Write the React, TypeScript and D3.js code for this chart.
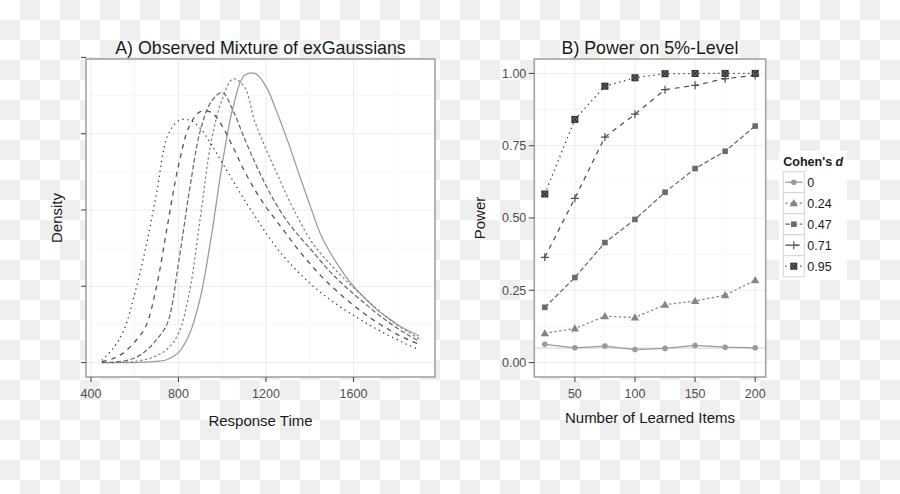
import React from "react";
import * as d3 from "d3";

// ---------- Panel A data (density, in tick units) ----------
const rtGrid = [450, 500, 550, 600, 650, 700, 750, 800, 850, 900, 950, 1000, 1050, 1100, 1150, 1200, 1250, 1300, 1350, 1400, 1450, 1500, 1550, 1600, 1650, 1700, 1750, 1800, 1850, 1900];
const densD0 = [0, 0, 0, 0, 0.005, 0.015, 0.04, 0.13, 0.37, 0.85, 1.65, 2.6, 3.35, 3.76, 3.79, 3.62, 3.28, 2.9, 2.48, 2.07, 1.68, 1.41, 1.19, 1.0, 0.85, 0.71, 0.6, 0.5, 0.42, 0.35];
const densD024 = [0, 0, 0.005, 0.015, 0.04, 0.09, 0.18, 0.38, 0.92, 1.9, 2.9, 3.45, 3.72, 3.62, 3.15, 2.8, 2.48, 2.16, 1.88, 1.62, 1.43, 1.27, 1.12, 0.98, 0.85, 0.72, 0.6, 0.49, 0.4, 0.31];
const densD047 = [0, 0.005, 0.02, 0.06, 0.15, 0.3, 0.52, 1.3, 2.25, 3.04, 3.42, 3.54, 3.3, 2.95, 2.62, 2.32, 2.06, 1.84, 1.66, 1.5, 1.33, 1.17, 1.03, 0.9, 0.78, 0.66, 0.55, 0.45, 0.36, 0.28];
const densD071 = [0.01, 0.05, 0.13, 0.27, 0.47, 1.0, 1.8, 2.58, 3.1, 3.29, 3.28, 3.1, 2.82, 2.52, 2.26, 2.04, 1.85, 1.66, 1.47, 1.3, 1.14, 1.0, 0.87, 0.75, 0.64, 0.54, 0.45, 0.37, 0.3, 0.24];
const densD095 = [0.03, 0.18, 0.42, 0.9, 1.5, 2.22, 2.97, 3.17, 3.18, 3.07, 2.86, 2.62, 2.38, 2.14, 1.92, 1.7, 1.5, 1.33, 1.18, 1.04, 0.92, 0.81, 0.71, 0.62, 0.53, 0.45, 0.37, 0.3, 0.23, 0.17];
const rtTicks = [400, 800, 1200, 1600];
const rtMinor = [600, 1000, 1400, 1800];
const densTicks = [0, 1, 2, 3, 4];
const densMinor = [0.5, 1.5, 2.5, 3.5];

// ---------- Panel B data ----------
const items = [25, 50, 75, 100, 125, 150, 175, 200];
const power0 = [0.063, 0.051, 0.057, 0.045, 0.049, 0.059, 0.053, 0.051];
const power024 = [0.101, 0.118, 0.16, 0.156, 0.2, 0.213, 0.233, 0.285];
const power047 = [0.191, 0.294, 0.415, 0.495, 0.589, 0.671, 0.731, 0.818];
const power071 = [0.364, 0.568, 0.78, 0.859, 0.944, 0.959, 0.982, 0.993];
const power095 = [0.583, 0.841, 0.956, 0.985, 0.999, 1.0, 1.0, 1.0];
const cohenLabels = ["0", "0.24", "0.47", "0.71", "0.95"];
const itemTicks = [50, 100, 150, 200];
const itemMinor = [25, 75, 125, 175];
const powerTicks = [0, 0.25, 0.5, 0.75, 1.0];
const powerMinor = [0.125, 0.375, 0.625, 0.875];
const alphaLevel = 0.05;

const densSeries = [densD0, densD024, densD047, densD071, densD095];
const powerSeries = [power0, power024, power047, power071, power095];

// styles
const colors = ["#9a9a9a", "#858585", "#6b6b6b", "#4f4f4f", "#333333"];
const dashes = ["none", "2.4,2.4", "4.8,2.4", "4.8,4.8", "1.3,3.7"];
const shapes = ["circle", "triangle", "square", "plus", "squarecross"];

const FONT = "'Liberation Sans', Arial, Helvetica, sans-serif";

function Marker({ shape, x, y, color }: { shape: string; x: number; y: number; color: string }) {
  if (shape === "circle") return <circle cx={x} cy={y} r={2.8} fill={color} />;
  if (shape === "triangle") {
    const p = d3.symbol(d3.symbolTriangle, 30)();
    return <path d={p || ""} transform={`translate(${x},${y + 0.6})`} fill={color} />;
  }
  if (shape === "square") return <rect x={x - 2.8} y={y - 2.8} width={5.6} height={5.6} fill={color} />;
  if (shape === "plus")
    return (
      <g stroke={color} strokeWidth={1.2}>
        <line x1={x - 4} x2={x + 4} y1={y} y2={y} />
        <line x1={x} x2={x} y1={y - 4} y2={y + 4} />
      </g>
    );
  return (
    <g stroke={color} strokeWidth={1.2} fill="#777">
      <rect x={x - 2.9} y={y - 2.9} width={5.8} height={5.8} />
      <line x1={x - 2.9} x2={x + 2.9} y1={y - 2.9} y2={y + 2.9} />
      <line x1={x - 2.9} x2={x + 2.9} y1={y + 2.9} y2={y - 2.9} />
    </g>
  );
}

export default function App() {
  // Panel A
  const aL = 86, aR = 435, top = 59, bot = 377;
  const densMax = d3.max(densSeries.flat()) as number;
  const xA = d3.scaleLinear().domain([450 - 0.05 * 1450, 1900 + 0.05 * 1450]).range([aL, aR]);
  const yA = d3.scaleLinear().domain([-0.05 * densMax, densMax * 1.05]).range([bot, top]);
  const lineA = d3
    .line<number>()
    .x((_, i) => xA(rtGrid[i]))
    .y((d) => yA(d))
    .curve(d3.curveCatmullRom.alpha(0.5));

  // Panel B
  const bL = 534.3, bR = 765.7;
  const xB = d3.scaleLinear().domain([25 - 0.05 * 175, 200 + 0.05 * 175]).range([bL, bR]);
  const yB = d3.scaleLinear().domain([-0.05, 1.05]).range([bot, top]);
  const lineB = d3
    .line<number>()
    .x((_, i) => xB(items[i]))
    .y((d) => yB(d));

  const tickColor = "#4d4d4d";
  const borderColor = "#a3a3a3";
  const gridMajor = "#ebebeb";
  const gridMinor = "#f6f6f6";

  const legX = 783.3, legTop = 171.7, keyH = 21, keyW = 21;

  return (
    <svg
      width={900}
      height={494}
      style={{ position: "absolute", left: 0, top: 0 }}
      fontFamily={FONT}
    >
      <defs>
        <pattern id="chk" width={40} height={40} patternUnits="userSpaceOnUse">
          <rect width={40} height={40} fill="#ffffff" />
          <rect x={20} y={0} width={20} height={20} fill="#efefef" />
          <rect x={0} y={20} width={20} height={20} fill="#efefef" />
        </pattern>
        <clipPath id="clipA">
          <rect x={aL} y={top} width={aR - aL} height={bot - top} />
        </clipPath>
        <clipPath id="clipB">
          <rect x={bL} y={top} width={bR - bL} height={bot - top} />
        </clipPath>
      </defs>
      <rect width={900} height={494} fill="url(#chk)" />

      {/* ---------------- Panel A ---------------- */}
      <rect x={aL} y={top} width={aR - aL} height={bot - top} fill="#fff" />
      {rtMinor.map((v) => (
        <line key={"am" + v} x1={xA(v)} x2={xA(v)} y1={top} y2={bot} stroke={gridMinor} />
      ))}
      {densMinor.map((v) => (
        <line key={"adm" + v} x1={aL} x2={aR} y1={yA(v)} y2={yA(v)} stroke={gridMinor} />
      ))}
      {rtTicks.map((v) => (
        <line key={"aM" + v} x1={xA(v)} x2={xA(v)} y1={top} y2={bot} stroke={gridMajor} />
      ))}
      {densTicks.map((v) => (
        <line key={"adM" + v} x1={aL} x2={aR} y1={yA(v)} y2={yA(v)} stroke={gridMajor} />
      ))}
      <g clipPath="url(#clipA)" fill="none">
        {densSeries.map((s, i) => (
          <path
            key={"c" + i}
            d={lineA(s) || ""}
            stroke={colors[i]}
            strokeWidth={1.25}
            strokeDasharray={dashes[i]}
          />
        ))}
      </g>
      <rect x={aL} y={top} width={aR - aL} height={bot - top} fill="none" stroke={borderColor} strokeWidth={1.6} />
      {densTicks.map((v) => (
        <line key={"at" + v} x1={aL - 5} x2={aL} y1={yA(v)} y2={yA(v)} stroke={tickColor} strokeWidth={1.1} />
      ))}
      {rtTicks.map((v) => (
        <g key={"axt" + v}>
          <line x1={xA(v)} x2={xA(v)} y1={bot} y2={bot + 5} stroke={tickColor} strokeWidth={1.1} />
          <text x={xA(v)} y={398} textAnchor="middle" fontSize={12.5} fill={tickColor}>
            {v}
          </text>
        </g>
      ))}
      <text x={(aL + aR) / 2} y={54} textAnchor="middle" fontSize={17.8} fill="#1a1a1a">
        A) Observed Mixture of exGaussians
      </text>
      <text x={(aL + aR) / 2} y={426} textAnchor="middle" fontSize={15} fill="#1a1a1a">
        Response Time
      </text>
      <text
        transform={`translate(62,${(top + bot) / 2}) rotate(-90)`}
        textAnchor="middle"
        fontSize={15}
        fill="#1a1a1a"
      >
        Density
      </text>

      {/* ---------------- Panel B ---------------- */}
      <rect x={bL} y={top} width={bR - bL} height={bot - top} fill="#fff" />
      {itemMinor.map((v) => (
        <line key={"bm" + v} x1={xB(v)} x2={xB(v)} y1={top} y2={bot} stroke={gridMinor} />
      ))}
      {powerMinor.map((v) => (
        <line key={"bpm" + v} x1={bL} x2={bR} y1={yB(v)} y2={yB(v)} stroke={gridMinor} />
      ))}
      {itemTicks.map((v) => (
        <line key={"bM" + v} x1={xB(v)} x2={xB(v)} y1={top} y2={bot} stroke={gridMajor} />
      ))}
      {powerTicks.map((v) => (
        <line key={"bpM" + v} x1={bL} x2={bR} y1={yB(v)} y2={yB(v)} stroke={gridMajor} />
      ))}
      <line x1={bL} x2={bR} y1={yB(alphaLevel)} y2={yB(alphaLevel)} stroke="#cfcfcf" strokeWidth={1} />
      <g clipPath="url(#clipB)">
        {powerSeries.map((s, i) => (
          <path
            key={"pl" + i}
            d={lineB(s) || ""}
            fill="none"
            stroke={colors[i]}
            strokeWidth={1.25}
            strokeDasharray={dashes[i]}
          />
        ))}
        {powerSeries.map((s, i) =>
          s.map((v, j) => (
            <Marker key={"pm" + i + "-" + j} shape={shapes[i]} x={xB(items[j])} y={yB(v)} color={colors[i]} />
          ))
        )}
      </g>
      <rect x={bL} y={top} width={bR - bL} height={bot - top} fill="none" stroke={borderColor} strokeWidth={1.6} />
      {powerTicks.map((v) => (
        <g key={"bt" + v}>
          <line x1={bL - 5.5} x2={bL} y1={yB(v)} y2={yB(v)} stroke={tickColor} strokeWidth={1.1} />
          <text x={bL - 8} y={yB(v) + 4.4} textAnchor="end" fontSize={12.5} fill={tickColor}>
            {v.toFixed(2)}
          </text>
        </g>
      ))}
      {itemTicks.map((v) => (
        <g key={"bxt" + v}>
          <line x1={xB(v)} x2={xB(v)} y1={bot} y2={bot + 5} stroke={tickColor} strokeWidth={1.1} />
          <text x={xB(v)} y={398} textAnchor="middle" fontSize={12.5} fill={tickColor}>
            {v}
          </text>
        </g>
      ))}
      <text x={(bL + bR) / 2} y={54} textAnchor="middle" fontSize={17.8} fill="#1a1a1a">
        B) Power on 5%-Level
      </text>
      <text x={(bL + bR) / 2} y={423} textAnchor="middle" fontSize={15} fill="#1a1a1a">
        Number of Learned Items
      </text>
      <text
        transform={`translate(485,${(top + bot) / 2}) rotate(-90)`}
        textAnchor="middle"
        fontSize={15}
        fill="#1a1a1a"
      >
        Power
      </text>

      {/* ---------------- Legend ---------------- */}
      <rect x={779} y={151} width={68} height={129} fill="#fff" />
      <text x={legX} y={166} fontSize={12.5} fontWeight="bold" fill="#1a1a1a">
        Cohen's <tspan fontStyle="italic">d</tspan>
      </text>
      {cohenLabels.map((lab, i) => {
        const cy = legTop + keyH * i + keyH / 2;
        return (
          <g key={"lg" + i}>
            <rect x={legX} y={legTop + keyH * i} width={keyW} height={keyH} fill="#fff" stroke="#d4d4d4" strokeWidth={1} />
            <line
              x1={legX + 2}
              x2={legX + keyW - 2}
              y1={cy}
              y2={cy}
              stroke={colors[i]}
              strokeWidth={1.25}
              strokeDasharray={dashes[i]}
            />
            <Marker shape={shapes[i]} x={legX + keyW / 2} y={cy} color={colors[i]} />
            <text x={legX + keyW + 3} y={cy + 4.4} fontSize={12.5} fill="#1a1a1a">
              {lab}
            </text>
          </g>
        );
      })}
    </svg>
  );
}
